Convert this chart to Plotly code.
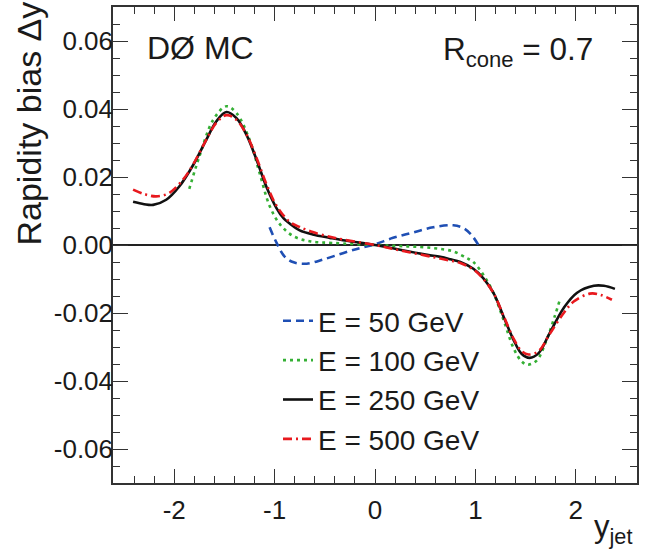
import plotly.graph_objects as go

# ---- data ----
x_50 = [-1.05, -0.98, -0.90, -0.81, -0.68, -0.52, -0.32, -0.15, 0.0, 0.18, 0.38, 0.58, 0.78, 0.88, 0.96, 1.03]
y_50 = [0.0052, 0.0006, -0.0034, -0.0051, -0.0055, -0.0043, -0.0024, -0.0009, 0.0002, 0.0021, 0.0037, 0.0052, 0.0058, 0.0050, 0.0030, 0.0000]

x_100 = [-1.85, -1.75, -1.61, -1.48, -1.38, -1.25, -1.15, -1.05, -0.95, -0.82, -0.65, -0.42, 0.0, 0.32, 0.58, 0.78, 0.91, 0.98, 1.08, 1.18, 1.28, 1.38, 1.46, 1.52, 1.61, 1.71, 1.79, 1.84]
y_100 = [0.0165, 0.0260, 0.0369, 0.0408, 0.0388, 0.0310, 0.0212, 0.0115, 0.0062, 0.0027, 0.0011, 0.0006, 0.0, -0.0004, -0.0009, -0.0019, -0.0038, -0.0050, -0.0088, -0.0141, -0.0220, -0.0303, -0.0342, -0.0352, -0.0340, -0.0279, -0.0210, -0.0163]

x_250 = [-2.41, -2.30, -2.21, -2.08, -1.95, -1.81, -1.68, -1.58, -1.48, -1.38, -1.28, -1.18, -1.08, -0.98, -0.91, -0.85, -0.75, -0.62, -0.45, -0.32, 0.0, 0.25, 0.52, 0.65, 0.75, 0.85, 0.98, 1.08, 1.18, 1.28, 1.38, 1.46, 1.54, 1.63, 1.74, 1.88, 2.01, 2.18, 2.28, 2.39]
y_250 = [0.0127, 0.0120, 0.0118, 0.0133, 0.0172, 0.0236, 0.0310, 0.0364, 0.0391, 0.0373, 0.0324, 0.0251, 0.0170, 0.0108, 0.0078, 0.0063, 0.0043, 0.0031, 0.0021, 0.0014, 0.0, -0.0014, -0.0029, -0.0035, -0.0042, -0.0050, -0.0070, -0.0098, -0.0141, -0.0210, -0.0279, -0.0320, -0.0332, -0.0318, -0.0259, -0.0185, -0.0141, -0.0120, -0.0120, -0.0129]

x_500 = [-2.41, -2.30, -2.18, -2.05, -1.90, -1.81, -1.68, -1.58, -1.48, -1.38, -1.28, -1.18, -1.08, -0.98, -0.85, -0.75, -0.62, -0.45, -0.32, 0.0, 0.25, 0.52, 0.65, 0.75, 0.85, 0.98, 1.08, 1.18, 1.28, 1.38, 1.46, 1.53, 1.63, 1.74, 1.88, 1.98, 2.14, 2.24, 2.36]
y_500 = [0.0163, 0.0150, 0.0143, 0.0153, 0.0197, 0.0238, 0.0310, 0.0360, 0.0382, 0.0368, 0.0325, 0.0256, 0.0178, 0.0115, 0.0068, 0.0053, 0.0038, 0.0024, 0.0016, 0.0, -0.0016, -0.0032, -0.0040, -0.0046, -0.0053, -0.0072, -0.0100, -0.0141, -0.0208, -0.0275, -0.0312, -0.0322, -0.0312, -0.0262, -0.0200, -0.0166, -0.0143, -0.0146, -0.0161]

series_names = ["E = 50 GeV", "E = 100 GeV", "E = 250 GeV", "E = 500 GeV"]
x_ticks = [-2, -1, 0, 1, 2]
x_ticktext = ["-2", "-1", "0", "1", "2"]
y_ticks = [-0.06, -0.04, -0.02, 0.0, 0.02, 0.04, 0.06]
y_ticktext = ["-0.06", "-0.04", "-0.02", "0.00", "0.02", "0.04", "0.06"]

FONT = "Liberation Sans, Arial, Helvetica, sans-serif"
TXT = "#1a1a1a"

fig = go.Figure()
styles = [
    (x_50, y_50, "#1f4fb4", "8px,5px"),
    (x_100, y_100, "#35b035", "3px,4px"),
    (x_250, y_250, "#111111", "solid"),
    (x_500, y_500, "#e8191e", "9px,4px,2px,4px"),
]
for name, (xs, ys, col, dash) in zip(series_names, styles):
    fig.add_trace(go.Scatter(
        x=xs, y=ys, mode="lines", name=name,
        line=dict(color=col, width=2.6, dash=dash, shape="spline", smoothing=1.0),
    ))

axis_common = dict(
    showgrid=False, showline=True, linecolor="#333333", linewidth=1.5,
    mirror="allticks", ticks="inside", tickcolor="#333333", tickwidth=1.2,
    tickfont=dict(family=FONT, size=26, color=TXT), automargin=False,
)
fig.update_xaxes(
    range=[-2.61, 2.61], tickmode="array", tickvals=x_ticks, ticktext=x_ticktext,
    ticklen=14, zeroline=False, ticklabelstandoff=3,
    minor=dict(dtick=0.2, tick0=0, ticks="inside", ticklen=7, tickcolor="#333333", tickwidth=1.2),
    **axis_common,
)
fig.update_yaxes(
    range=[-0.07, 0.07], tickmode="array", tickvals=y_ticks, ticktext=y_ticktext,
    ticklen=15, zeroline=True, zerolinecolor="#222222", zerolinewidth=1.5,
    ticklabelstandoff=-7,
    minor=dict(dtick=0.005, tick0=0, ticks="inside", ticklen=7, tickcolor="#333333", tickwidth=1.2),
    **axis_common,
)

fig.update_layout(
    width=646, height=550,
    margin=dict(l=113, r=9, t=7, b=67, autoexpand=False),
    paper_bgcolor="white", plot_bgcolor="white",
    font=dict(family=FONT, color=TXT),
    showlegend=True,
    legend=dict(
        x=(278 - 113) / 524, y=(483 - 296) / 476, xanchor="left", yanchor="top",
        bgcolor="rgba(0,0,0,0)", borderwidth=0,
        font=dict(family=FONT, size=28, color=TXT),
        itemwidth=30, tracegroupgap=0,
    ),
    annotations=[
        dict(text="DØ MC", xref="paper", yref="paper", x=(145 - 113) / 524, y=(483 - 48) / 476,
             xanchor="left", yanchor="middle", showarrow=False,
             font=dict(family=FONT, size=32, color=TXT)),
        dict(text="R<sub>cone</sub> = 0.7", xref="paper", yref="paper", x=(441 - 113) / 524, y=(483 - 51) / 476,
             xanchor="left", yanchor="middle", showarrow=False,
             font=dict(family=FONT, size=31.5, color=TXT)),
        dict(text="y<sub>jet</sub>", xref="paper", yref="paper", x=(634 - 113) / 524, y=(483 - 551) / 476,
             xanchor="right", yanchor="bottom", showarrow=False,
             font=dict(family=FONT, size=31, color=TXT)),
        dict(text="Rapidity bias Δy", xref="paper", yref="paper", x=(28.5 - 113) / 524, y=(483 - 0) / 476,
             xanchor="center", yanchor="top", textangle=-90, showarrow=False,
             font=dict(family=FONT, size=34, color=TXT)),
    ],
)

fig.write_html(
    "out.html",
    config={"displayModeBar": False},
    post_script="document.body.style.margin='0';document.body.style.overflow='hidden';",
)
